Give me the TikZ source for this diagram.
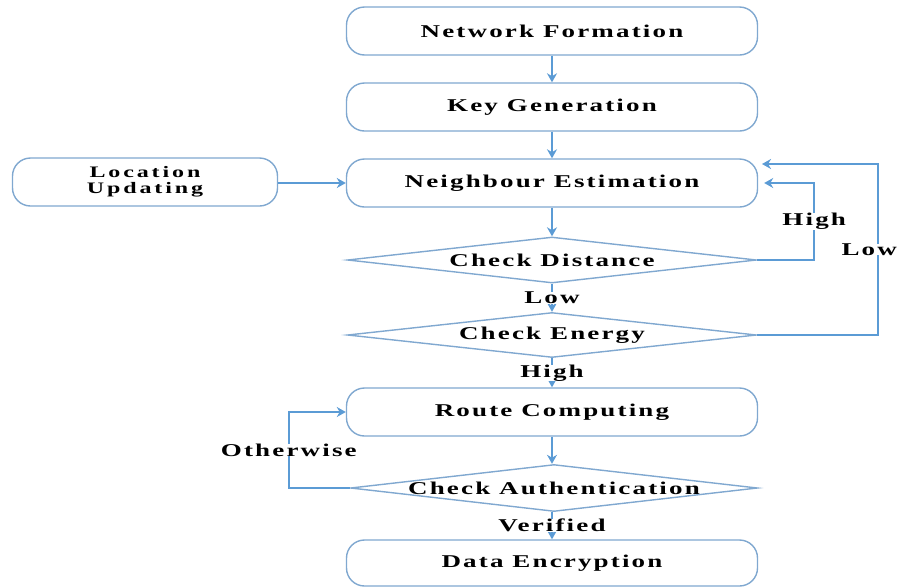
\documentclass[tikz,border=0pt]{standalone}
\usepackage{fontspec}
\setmainfont{Liberation Serif}[FakeStretch=1.5, LetterSpace=12]
\usetikzlibrary{shapes.geometric, arrows.meta}

\definecolor{flowblue}{RGB}{91,155,213}
\definecolor{boxline}{RGB}{128,168,208}

\begin{document}
\begin{tikzpicture}[
  x=1pt, y=-1pt,
  txt/.style={font=\bfseries\fontsize{18}{20}\selectfont},
  pbox/.style={rectangle, rounded corners=18pt, draw=boxline, line width=1.4pt,
    fill=white, minimum width=411pt, minimum height=48pt, txt},
  cbox/.style={diamond, aspect=9, inner sep=0pt, draw=boxline, line width=1.4pt,
    fill=white, minimum width=409pt, minimum height=46pt, txt},
  lbl/.style={fill=white, inner sep=0pt, txt},
  flow/.style={->, draw=flowblue, line width=2.4pt},
  >={Stealth[length=9pt, width=10pt]}
]
  \useasboundingbox (0,0) rectangle (899,587);

  % main column
  \node[pbox] (net) at (552,31) {Network Formation};
  \node[pbox] (key) at (552,107) {Key Generation};
  \node[pbox] (nbr) at (552,183) {Neighbour Estimation};
  \node[pbox, minimum width=265pt, align=center,
    font=\bfseries\fontsize{16}{16}\selectfont\addfontfeatures{LetterSpace=18}]
    (loc) at (145,182) {Location\\Updating};
  \node[cbox] (dist) at (552,260) {Check Distance};
  \node[cbox, minimum height=45pt] (energy) at (552,335) {Check Energy};
  \node[pbox] (route) at (552,412) {Route Computing};
  \node[cbox, minimum width=407pt, minimum height=47pt] (auth) at (554,488) {Check Authentication};
  \node[pbox, minimum height=46pt] (enc) at (552,563) {Data Encryption};
  \coordinate (lowin) at (762,164);

  \draw[flow] (net) -- (key);
  \draw[flow] (key) -- (nbr);
  \draw[flow] (loc.east |- nbr.west) -- (nbr.west);
  \draw[flow] (nbr) -- (dist);
  \draw[flow] (dist) -- node[lbl]{Low} (energy);
  \draw[flow] (energy) -- node[lbl]{High} (route);
  \draw[flow] (route.south) -- (route.south |- auth.north);
  \draw[flow] (auth.south -| enc.north) -- node[lbl]{Verified} (enc.north);

  % loops back
  \draw[flow, shorten >=6pt] (dist.east) -- ++(57,0) |- node[lbl, pos=0.25]{High} (nbr.east);
  \draw[flow] (energy.east) -- ++(121,0) |- node[lbl, pos=0.25, xshift=-9pt]{Low} (lowin);
  \draw[flow] (auth.west) -- ++(-61,0) |- node[lbl, pos=0.25]{Otherwise} (route.west);
\end{tikzpicture}
\end{document}
